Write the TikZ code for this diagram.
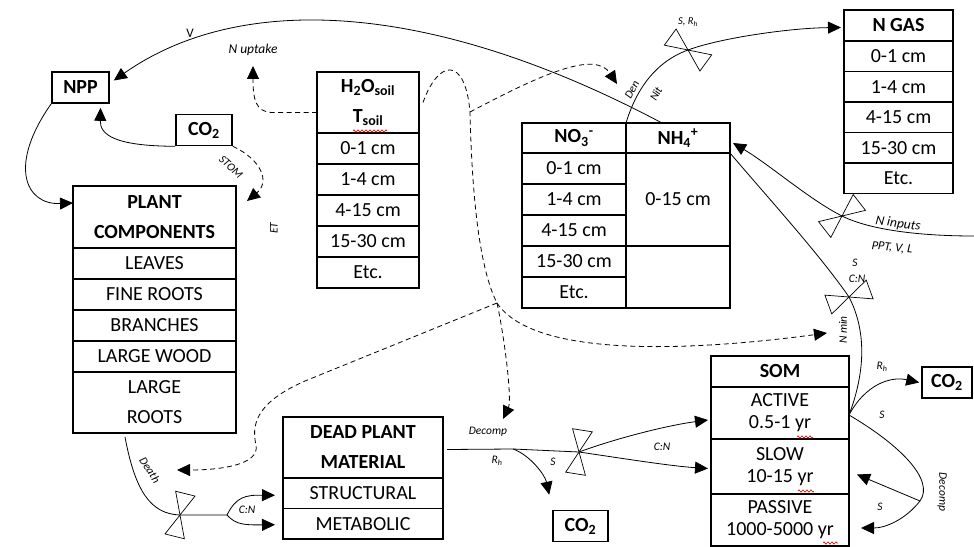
\documentclass[tikz,border=0pt]{standalone}
\usepackage{fontspec}
\setmainfont{Carlito}
\usepackage{tikz}
\usetikzlibrary{arrows.meta, positioning, calc, decorations.pathmorphing}

\tikzset{
  valve/.pic={
    \draw[line width=0.7pt, fill=white] (0,0) -- (-10,-22) -- (10,-22) -- cycle
      (0,0) -- (-10,22) -- (10,22) -- cycle;
  }
}

\begin{document}
\begin{tikzpicture}[
    x=1pt, y=-1pt,
    >={Triangle[length=13pt, width=12pt]},
    cell/.style={draw, line width=1.6pt, outer sep=0pt, inner sep=0pt,
                 minimum width=#1, minimum height=31pt, align=center,
                 font=\fontsize{20}{30}\selectfont},
    cell/.default=104pt,
    hcell/.style={cell=#1, font=\fontsize{20}{30}\selectfont\bfseries},
    hcell/.default=104pt,
    pbox/.style={draw, line width=1.6pt, inner sep=0pt, minimum height=31pt,
                 font=\fontsize{20}{24}\selectfont\bfseries},
    flow/.style={line width=0.8pt},
    arr/.style={->, line width=0.8pt},
    darr/.style={->, line width=0.8pt, dash pattern=on 5pt off 3.5pt},
    dflow/.style={line width=0.8pt, dash pattern=on 5pt off 3.5pt},
    lbl/.style={font=\fontsize{11.5}{13}\selectfont\itshape, inner sep=1pt},
    lblb/.style={font=\fontsize{13.5}{15}\selectfont\itshape, inner sep=1pt},
    squig/.style={red, line width=0.6pt, decorate,
                  decoration={zigzag, segment length=4pt, amplitude=1.2pt}},
]
\useasboundingbox (0,0) rectangle (974,546);

% --- Small boxes ---
\node[pbox, minimum width=57pt] (npp) at (80.5,87.5) {NPP};
\node[pbox, minimum width=56pt] (co2_a) at (204,130) {CO\textsubscript{2}};
\node[pbox, minimum width=55pt] (co2_b) at (580.5,526) {CO\textsubscript{2}};
\node[pbox, minimum width=50pt] (co2_c) at (947,382.5) {CO\textsubscript{2}};

% --- Plant components ---
\node[hcell=163pt, minimum height=62pt, anchor=north west] (plant_h) at (73,186) {PLANT\\COMPONENTS};
\node[cell=163pt, below=0pt of plant_h] (plant_1) {LEAVES};
\node[cell=163pt, below=0pt of plant_1] (plant_2) {FINE ROOTS};
\node[cell=163pt, below=0pt of plant_2] (plant_3) {BRANCHES};
\node[cell=163pt, below=0pt of plant_3] (plant_4) {LARGE WOOD};
\node[cell=163pt, minimum height=61pt, below=0pt of plant_4] (plant_5) {LARGE\\ROOTS};

% --- Soil water / temperature ---
\node[hcell=102pt, minimum height=61pt, anchor=north west] (h2o_h) at (317,72)
     {H\textsubscript{2}O\textsubscript{soil}\\T\textsubscript{soil}};
\node[cell=102pt, below=0pt of h2o_h] (h2o_1) {0-1 cm};
\node[cell=102pt, below=0pt of h2o_1] (h2o_2) {1-4 cm};
\node[cell=102pt, below=0pt of h2o_2] (h2o_3) {4-15 cm};
\node[cell=102pt, below=0pt of h2o_3] (h2o_4) {15-30 cm};
\node[cell=102pt, below=0pt of h2o_4] (h2o_5) {Etc.};

% --- Mineral N ---
\node[hcell, minimum height=30pt, anchor=north west] (no3_h) at (522,123)
     {NO\textsubscript{3}\textsuperscript{-}};
\node[cell, below=0pt of no3_h] (no3_1) {0-1 cm};
\node[cell, below=0pt of no3_1] (no3_2) {1-4 cm};
\node[cell, below=0pt of no3_2] (no3_3) {4-15 cm};
\node[cell, below=0pt of no3_3] (no3_4) {15-30 cm};
\node[cell, below=0pt of no3_4] (no3_5) {Etc.};
\node[hcell, minimum height=30pt, right=0pt of no3_h] (nh4_h)
     {NH\textsubscript{4}\textsuperscript{+}};
\node[cell, minimum height=93pt, below=0pt of nh4_h] (nh4_1) {0-15 cm};
\node[cell, minimum height=62pt, below=0pt of nh4_1] (nh4_2) {};

% --- N gas ---
\node[hcell=109pt, anchor=north west] (ngas_h) at (844,10) {N GAS};
\node[cell=109pt, minimum height=30.5pt, below=0pt of ngas_h] (ngas_1) {0-1 cm};
\node[cell=109pt, minimum height=30.5pt, below=0pt of ngas_1] (ngas_2) {1-4 cm};
\node[cell=109pt, minimum height=30.5pt, below=0pt of ngas_2] (ngas_3) {4-15 cm};
\node[cell=109pt, minimum height=30.5pt, below=0pt of ngas_3] (ngas_4) {15-30 cm};
\node[cell=109pt, minimum height=30.5pt, below=0pt of ngas_4] (ngas_5) {Etc.};

% --- SOM ---
\node[hcell=138pt, anchor=north west] (som_h) at (711,356) {SOM};
\node[cell=138pt, minimum height=52pt, font=\fontsize{20}{22}\selectfont,
      below=0pt of som_h] (som_a) {ACTIVE\\0.5-1 yr};
\node[cell=138pt, minimum height=55pt, font=\fontsize{20}{22}\selectfont,
      below=0pt of som_a] (som_s) {SLOW\\10-15 yr};
\node[cell=138pt, minimum height=52pt, font=\fontsize{20}{22}\selectfont,
      below=0pt of som_s] (som_p) {PASSIVE\\1000-5000 yr};

% --- Dead plant material ---
\node[hcell=160pt, minimum height=61pt, anchor=north west] (dead_h) at (283,417) {DEAD PLANT\\MATERIAL};
\node[cell=160pt, minimum height=30.5pt, below=0pt of dead_h] (dead_s) {STRUCTURAL};
\node[cell=160pt, minimum height=30.5pt, below=0pt of dead_s] (dead_m) {METABOLIC};

% --- Spell-check marks ---
\draw[squig] ($(h2o_h.south)+(-15,-2)$) -- +(34,0);
\draw[squig] ($(som_a.south)+(17,-2)$) -- +(16,0);
\draw[squig] ($(som_s.south)+(18,-3)$) -- +(16,0);
\draw[squig] ($(som_p.south)+(43,-3)$) -- +(15,0);

% --- Junction points ---
\coordinate (v_den) at (688,50);
\coordinate (v_nin) at (842,216);
\coordinate (v_nmin) at (849,297);
\coordinate (v_death) at (180,515);
\coordinate (v_som) at (579,452);
\coordinate (nin_end) at (974,236);
\coordinate (knee) at (470,112);
\coordinate (junc) at (497,303);
\coordinate (som_out) at ($(som_a.east)+(0,2)$);
\coordinate (som_loop) at (920,501);
\coordinate (dpm_split) at (513,449);
\coordinate (death_split) at (227,515);
\coordinate (den_tip) at (617,84);
\coordinate (decomp_tip) at (503,419);
\coordinate (nmin_tip) at (827,333);
\coordinate (death_tip) at (177,470);

% --- Plant side ---
\draw[arr] ($(nh4_h.north west)+(36,0)$) .. controls (430,0) and (240,-8) .. ($(npp.east)+(4,-7)$);
\node[font=\fontsize{13}{15}\selectfont] (v_lbl) at (190,33) {V};
\node[lblb] (nupt) at (253,50) {N uptake};
\draw[darr] ($(h2o_h.west)+(0,10)$) -- (272,112.5) .. controls (256,112) and (253,100) .. ($(nupt.south)+(0,9)$);
\draw[arr] (co2_a.south west) .. controls (115,146) and (100,135) .. ($(npp.south)+(20,4)$);
\draw[arr] (npp.south west) .. controls (8,165) and (25,205) .. ($(plant_h.west)+(0,-14)$);
\draw[darr] (co2_a.south east) .. controls (262,160) and (270,182) .. ($(plant_h.north east)+(11,15)$);
\node[lbl, rotate=-43] at (231,167) {STOM};
\node[lbl, rotate=90] at (274,228) {ET};

% --- Soil controls (dashed) ---
\draw[dflow] ($(h2o_h.east)+(4,0)$) .. controls (438,60) and (465,55) .. (knee)
    .. controls (472,200) and (480,270) .. (junc);
\draw[darr] (knee) .. controls (540,75) and (595,50) .. (den_tip);
\draw[darr] (junc) .. controls (505,340) and (512,400) .. (decomp_tip);
\draw[darr] (junc) .. controls (535,360) and (700,350) .. (nmin_tip);
\draw[darr] (junc) -- (305,381) .. controls (262,400) and (250,420) .. (256,445)
    .. controls (260,465) and (220,470) .. (death_tip);

% --- N fluxes ---
\draw[arr] (no3_h.north east) .. controls (636,90) and (655,62) .. (v_den)
    .. controls (720,38) and (790,28) .. ($(ngas_h.west)+(-3,2)$);
\pic[rotate=54] at (v_den) {valve};
\node[lbl, rotate=62] at (632,90) {Den};
\node[lbl, rotate=62] at (656,94) {Nit};
\node[lbl, font=\fontsize{10.5}{12}\selectfont\itshape] at (688,22) {S, R\textsubscript{h}};

\draw[arr] (nin_end) .. controls (920,236) and (870,230) .. (v_nin)
    .. controls (810,200) and (770,165) .. ($(nh4_h.east)+(3,5)$);
\pic[rotate=-52] at (v_nin) {valve};
\node[lblb, rotate=-8] at (898,224) {N inputs};
\node[lbl, font=\fontsize{12.5}{14}\selectfont\itshape, rotate=-6] at (892,248) {PPT, V, L};

\draw[flow] (som_out) .. controls (866,370) and (866,330) .. (v_nmin)
    .. controls (820,255) and (770,200) .. (nh4_h.south east);
\pic[rotate=-70] at (v_nmin) {valve};
\node[lbl] at (855,263) {S};
\node[lbl] at (857,279) {C:N};
\node[lbl, rotate=90] at (843,330) {N min};

% --- SOM fluxes ---
\draw[arr] (som_out) .. controls (865,385) and (890,376) .. ($(co2_c.west)+(-2,0)$);
\draw[flow] (som_out) .. controls (900,445) and (935,480) .. (som_loop);
\draw[arr] (som_loop) -- ($(som_s.east)+(8,8)$);
\draw[arr] (som_loop) .. controls (905,520) and (885,528) .. ($(som_p.east)+(12,8)$);
\node[lbl] at (882,367) {R\textsubscript{h}};
\node[lbl] at (882,415) {S};
\node[lbl, rotate=-90] at (942,492) {Decomp};
\node[lbl] at (880,507) {S};

% --- Litter fluxes ---
\draw[flow] ($(dead_h.east)+(4,2)$) -- (dpm_split) -- (v_som);
\draw[arr] (dpm_split) .. controls (530,455) and (545,475) .. ($(co2_b.north west)+(-3,-15)$);
\draw[arr] (v_som) .. controls (620,437) and (670,425) .. ($(som_a.west)+(-3,7)$);
\draw[arr] (v_som) .. controls (620,458) and (670,466) .. ($(som_s.west)+(-3,2)$);
\pic[rotate=-9] at (v_som) {valve};
\node[lbl] at (488,432) {Decomp};
\node[lbl] at (497,461) {R\textsubscript{h}};
\node[lbl] at (553,462) {S};
\node[lbl] at (662,447) {C:N};

\draw[flow] ($(plant_5.south west)+(52,4)$) .. controls (135,490) and (150,514) .. (v_death) -- (death_split);
\draw[arr] (death_split) .. controls (236,497) and (245,495) .. ($(dead_s.west)+(-8,2)$);
\draw[arr] (death_split) .. controls (236,525) and (245,525) .. ($(dead_m.west)+(-8,1)$);
\pic[rotate=-14] at (v_death) {valve};
\node[lbl, rotate=-57] at (150,470) {Death};
\node[lbl] at (247,510) {C:N};

\end{tikzpicture}
\end{document}
